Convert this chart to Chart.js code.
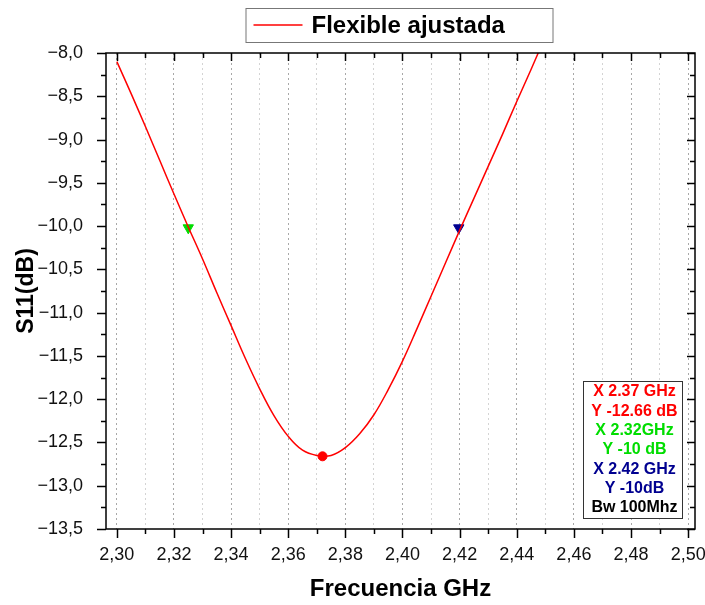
<!DOCTYPE html>
<html>
<head>
<meta charset="utf-8">
<script src="https://cdn.jsdelivr.net/npm/chart.js@4.4.0/dist/chart.umd.min.js"></script>
<style>
  html, body { margin: 0; padding: 0; background: #fff; }
  #wrap { width: 705px; height: 605px; }
</style>
</head>
<body>
<div id="wrap"><canvas id="s11Chart"></canvas></div>
<script>
// S11 curve (GHz, dB)
const freq = [2.300, 2.305, 2.310, 2.315, 2.320, 2.325, 2.330, 2.335, 2.340, 2.345,
              2.350, 2.355, 2.360, 2.365, 2.370, 2.375, 2.380, 2.385, 2.390, 2.395,
              2.400, 2.405, 2.410, 2.415, 2.420, 2.425, 2.430, 2.435, 2.440, 2.445, 2.450];
const s11 = [-8.10, -8.47, -8.85, -9.24, -9.63, -10.01, -10.38, -10.77, -11.15, -11.53,
             -11.88, -12.19, -12.43, -12.59, -12.65, -12.65, -12.56, -12.40, -12.18, -11.89,
             -11.56, -11.19, -10.81, -10.43, -10.05, -9.68, -9.31, -8.94, -8.56, -8.19, -7.81];

// markers
const minPoint = [{ x: 2.372, y: -12.66 }];
const lowEdge = [{ x: 2.325, y: -10.02 }];
const highEdge = [{ x: 2.4197, y: -10.02 }];

// axis ticks
const xMajorTicks = [2.30, 2.32, 2.34, 2.36, 2.38, 2.40, 2.42, 2.44, 2.46, 2.48, 2.50];
const yMajorTicks = [-13.5, -13.0, -12.5, -12.0, -11.5, -11.0, -10.5, -10.0, -9.5, -9.0, -8.5, -8.0];

const legendLabel = "Flexible ajustada";
const noteLines = ["X 2.37 GHz", "Y -12.66 dB", "X 2.32GHz", "Y -10 dB", "X 2.42 GHz", "Y -10dB", "Bw 100Mhz"];
const noteColors = ["#ff0000", "#ff0000", "#00dd00", "#00dd00", "#000090", "#000090", "#000000"];

const FONT = "'Liberation Sans', Arial, sans-serif";

// every 0.01 for the dotted grid
let xGridTicks = [];
xMajorTicks.forEach(function(v, i) {
    xGridTicks.push(v);
    if (i < xMajorTicks.length - 1) xGridTicks.push((v + xMajorTicks[i + 1]) / 2);
});

function isMajorX(v) {
    return Math.round(v * 100) % 2 === 0;
}

function fmt(v, digits) {
    return v.toFixed(digits).replace(".", ",").replace("-", "\u2212");
}

const framePlugin = {
    id: "frame",
    afterDraw(chart) {
        const ctx = chart.ctx;
        const a = chart.chartArea;
        const xs = chart.scales.x;
        const ys = chart.scales.y;
        ctx.save();

        // axis frame
        ctx.strokeStyle = "#000";
        ctx.lineWidth = 1.5;
        ctx.strokeRect(a.left, a.top, a.right - a.left, a.bottom - a.top);

        // ticks: outward on bottom/left, inward on top/right
        ctx.beginPath();
        xGridTicks.forEach(function(v) {
            const px = Math.round(xs.getPixelForValue(v)) + 0.5;
            const major = isMajorX(v);
            ctx.moveTo(px, a.bottom);
            ctx.lineTo(px, a.bottom + (major ? 9 : 5));
            ctx.moveTo(px, a.top);
            ctx.lineTo(px, a.top + (major ? 8 : 5));
        });
        yMajorTicks.forEach(function(v, i) {
            const py = Math.round(ys.getPixelForValue(v)) + 0.5;
            ctx.moveTo(a.left - 9, py);
            ctx.lineTo(a.left, py);
            ctx.moveTo(a.right - 8, py);
            ctx.lineTo(a.right, py);
            if (i < yMajorTicks.length - 1) {
                const pm = Math.round(ys.getPixelForValue(v + 0.25)) + 0.5;
                ctx.moveTo(a.left - 5, pm);
                ctx.lineTo(a.left, pm);
                ctx.moveTo(a.right - 5, pm);
                ctx.lineTo(a.right, pm);
            }
        });
        ctx.stroke();

        // legend box
        const cx = (a.left + a.right) / 2;
        const lx = cx - 155;
        ctx.strokeStyle = "#777";
        ctx.lineWidth = 1;
        ctx.strokeRect(lx + 0.5, 8.5, 307, 34);
        ctx.strokeStyle = "#ff0000";
        ctx.lineWidth = 1.5;
        ctx.beginPath();
        ctx.moveTo(lx + 8, 25);
        ctx.lineTo(lx + 57, 25);
        ctx.stroke();
        ctx.fillStyle = "#000";
        ctx.font = "bold 24px " + FONT;
        ctx.textAlign = "left";
        ctx.textBaseline = "middle";
        ctx.fillText(legendLabel, lx + 66, 26);

        // note box
        const bw = 99, bh = 137;
        const bx = a.right - 13 - bw;
        const by = a.bottom - 11 - bh;
        ctx.fillStyle = "#fff";
        ctx.fillRect(bx, by, bw, bh);
        ctx.strokeStyle = "#333";
        ctx.lineWidth = 1;
        ctx.strokeRect(bx + 0.5, by + 0.5, bw, bh);
        ctx.font = "bold 16px " + FONT;
        ctx.textAlign = "center";
        noteLines.forEach(function(t, i) {
            ctx.fillStyle = noteColors[i];
            ctx.fillText(t, bx + bw / 2 + 2, by + 11 + i * 19.3);
        });

        ctx.restore();
    }
};

const ctx = document.getElementById("s11Chart").getContext("2d");

new Chart(ctx, {
    type: "line",
    data: {
        datasets: [
            {
                label: legendLabel,
                data: freq.map(function(f, i) { return { x: f, y: s11[i] }; }),
                borderColor: "#ff0000",
                borderWidth: 1.5,
                pointRadius: 0,
                tension: 0.4,
                fill: false
            },
            {
                data: minPoint,
                showLine: false,
                pointStyle: "circle",
                pointRadius: 4.5,
                backgroundColor: "#ff0000",
                borderColor: "#ff0000"
            },
            {
                data: lowEdge,
                showLine: false,
                pointStyle: "triangle",
                rotation: 180,
                pointRadius: 6,
                backgroundColor: "#00dd00",
                borderColor: "#00dd00"
            },
            {
                data: highEdge,
                showLine: false,
                pointStyle: "triangle",
                rotation: 180,
                pointRadius: 6,
                backgroundColor: "#000090",
                borderColor: "#000090"
            }
        ]
    },
    options: {
        responsive: true,
        maintainAspectRatio: false,
        animation: false,
        layout: { padding: { top: 53, right: 10, left: 0, bottom: 0 } },
        plugins: {
            legend: { display: false },
            tooltip: { enabled: false }
        },
        scales: {
            x: {
                type: "linear",
                min: 2.2962,
                max: 2.5024,
                afterBuildTicks: function(scale) {
                    scale.ticks = xGridTicks.map(function(v) { return { value: v }; });
                },
                afterFit: function(scale) {
                    scale.height = 76;
                    scale.paddingLeft = 0;
                    scale.paddingRight = 0;
                },
                grid: {
                    drawTicks: false,
                    lineWidth: 1,
                    color: function(c) {
                        return c.tick && isMajorX(c.tick.value) ? "#a8a8a8" : "#d4d4d4";
                    }
                },
                border: { display: false, dash: [2, 3] },
                ticks: {
                    autoSkip: false,
                    maxRotation: 0,
                    padding: 15,
                    color: "#111",
                    font: { family: FONT, size: 18 },
                    callback: function(v) { return isMajorX(v) ? fmt(v, 2) : ""; }
                },
                title: {
                    display: true,
                    text: "Frecuencia GHz",
                    color: "#000",
                    font: { family: FONT, size: 24, weight: "bold" },
                    padding: { top: 0, bottom: 1 }
                }
            },
            y: {
                min: -13.5,
                max: -8.0,
                afterBuildTicks: function(scale) {
                    scale.ticks = yMajorTicks.map(function(v) { return { value: v }; });
                },
                afterFit: function(scale) {
                    scale.width = 106;
                    scale.paddingTop = 0;
                    scale.paddingBottom = 0;
                },
                grid: { display: false },
                border: { display: false },
                ticks: {
                    padding: 15,
                    color: "#111",
                    font: { family: FONT, size: 18 },
                    callback: function(v) { return fmt(v, 1); }
                },
                title: {
                    display: true,
                    text: "S11(dB)",
                    color: "#000",
                    font: { family: FONT, size: 23, weight: "bold" },
                    padding: { top: 13, bottom: 0 }
                }
            }
        }
    },
    plugins: [framePlugin]
});
</script>
</body>
</html>
